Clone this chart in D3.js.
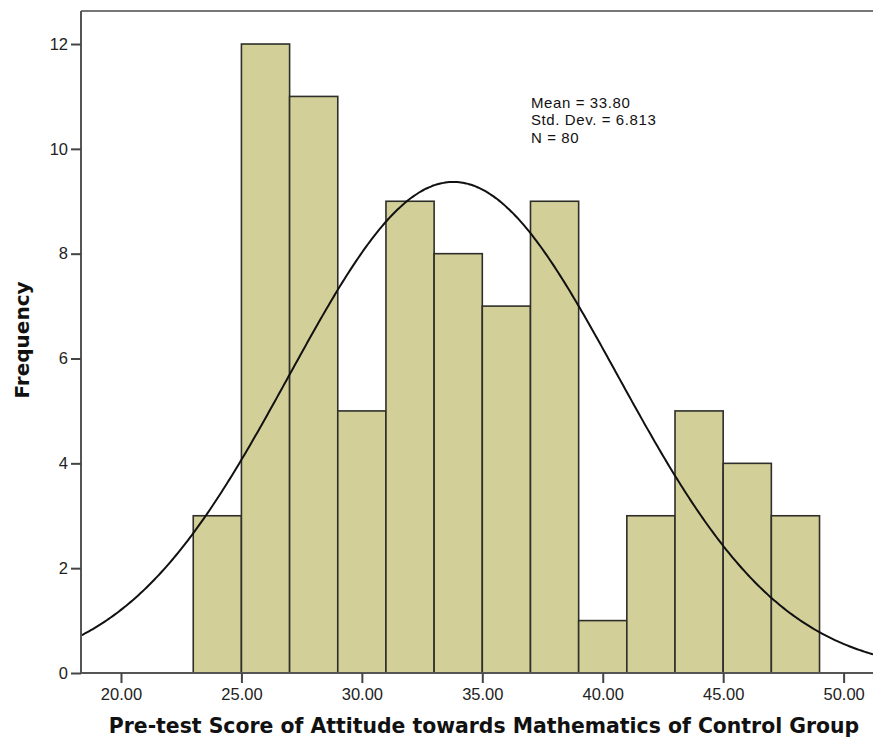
<!DOCTYPE html>
<html><head><meta charset="utf-8">
<script src="https://cdn.jsdelivr.net/npm/d3@7"></script>
<style>body{margin:0;background:#fff}</style>
</head><body>
<svg id="c" width="873" height="740"></svg>
<script>
const binStarts = [23,25,27,29,31,33,35,37,39,41,43,45,47];
const binWidth = 2;
const frequencies = [3,12,11,5,9,8,7,9,1,3,5,4,3];
const xTicks = [20,25,30,35,40,45,50];
const yTicks = [0,2,4,6,8,10,12];
const stats = {mean:33.80, sd:6.813, n:80};
const legendLines = ["Mean = 33.80","Std. Dev. = 6.813","N = 80"];

const svg = d3.select("#c");
const L=81, T=11, R=873, B=673;
const x = d3.scaleLinear().domain([18.34,51.22]).range([L,R]);
const y = d3.scaleLinear().domain([0,12.63]).range([B,T]);

// bars
svg.append("g").selectAll("rect").data(binStarts).join("rect")
  .attr("x",(d)=>x(d)).attr("width",(d)=>x(d+binWidth)-x(d))
  .attr("y",(d,i)=>y(frequencies[i])).attr("height",(d,i)=>B-y(frequencies[i]))
  .attr("fill","#d3cf98").attr("stroke","#2e2e2a").attr("stroke-width",1.6);

// normal curve
const k = stats.n*binWidth/(stats.sd*Math.sqrt(2*Math.PI));
const xs = d3.range(0,401).map(i=>18.34+(51.22-18.34)*i/400);
const line = d3.line().x(d=>x(d)).y(d=>y(k*Math.exp(-0.5*((d-stats.mean)/stats.sd)**2))).curve(d3.curveBasis);
svg.append("path").datum(xs).attr("d",line).attr("fill","none").attr("stroke","#111").attr("stroke-width",2);

// top border
svg.append("line").attr("x1",L).attr("x2",R).attr("y1",T).attr("y2",T).attr("stroke","#777").attr("stroke-width",2);

// axes
const xa = svg.append("g").attr("transform",`translate(0,${B})`)
  .call(d3.axisBottom(x).tickValues(xTicks).tickSize(10).tickSizeOuter(0).tickFormat(d3.format(".2f")));
const ya = svg.append("g").attr("transform",`translate(${L},0)`)
  .call(d3.axisLeft(y).tickValues(yTicks).tickSize(10).tickSizeOuter(0).tickFormat(d3.format("d")));
[xa,ya].forEach(a=>{
  a.select(".domain").attr("stroke","#555").attr("stroke-width",2);
  a.selectAll(".tick line").attr("stroke","#444").attr("stroke-width",2);
  a.selectAll("text").attr("font-family","Liberation Sans, Arial, sans-serif").attr("font-size",16.5).attr("fill","#222");
});
xa.select(".domain").attr("d",`M${L},0H${R}`);
ya.select(".domain").attr("d",`M0,${T}V${B}`);
xa.selectAll(".tick text").attr("dy",0).attr("y",27);
ya.selectAll(".tick text").attr("x",-13);

// axis titles
svg.append("text").attr("x",484).attr("y",733).attr("text-anchor","middle")
  .attr("font-family","DejaVu Sans, Verdana, sans-serif").attr("font-weight","bold").attr("font-size",20.4).attr("fill","#111")
  .text("Pre-test Score of Attitude towards Mathematics of Control Group");
svg.append("text").attr("transform","translate(29,340) rotate(-90)").attr("text-anchor","middle")
  .attr("font-family","DejaVu Sans, Verdana, sans-serif").attr("font-weight","bold").attr("font-size",20).attr("fill","#111")
  .text("Frequency");

// legend
svg.append("g").selectAll("text").data(legendLines).join("text")
  .attr("x",531).attr("y",(d,i)=>108+i*17.3)
  .attr("font-family","Liberation Sans, Arial, sans-serif").attr("font-size",15).attr("letter-spacing",0.6).attr("fill","#111")
  .text(d=>d);
</script>
</body></html>
